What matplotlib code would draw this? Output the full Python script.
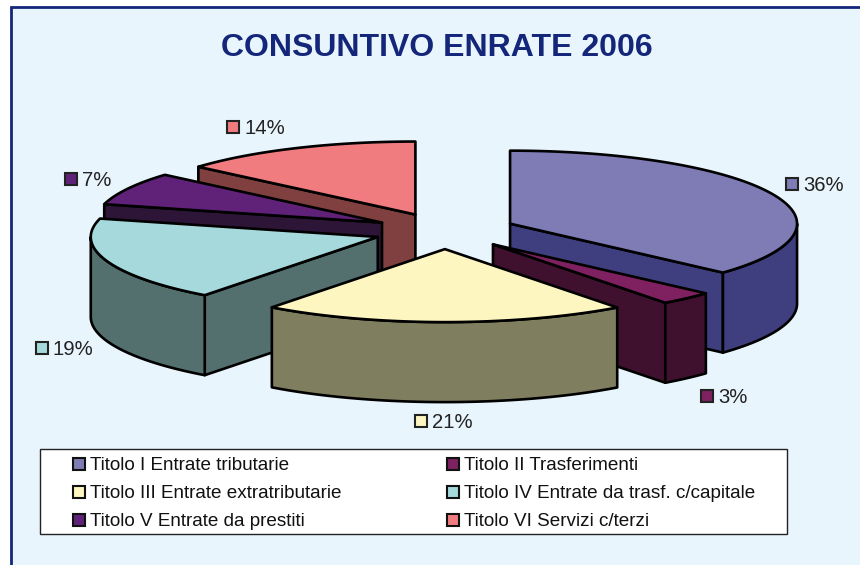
#!/usr/bin/env python3
# -*- coding: utf-8 -*-
import numpy as np
import matplotlib
matplotlib.use("Agg")
import matplotlib.pyplot as plt
from matplotlib.patches import Polygon, Rectangle

# dati
categorie = ["Titolo I Entrate tributarie", "Titolo II Trasferimenti",
             "Titolo III Entrate extratributarie", "Titolo IV Entrate da trasf. c/capitale",
             "Titolo V Entrate da prestiti", "Titolo VI Servizi c/terzi"]
valori = [36.7, 3.05, 20.55, 18.75, 7.3, 13.65]
etichette = ["36%", "3%", "21%", "19%", "7%", "14%"]

# stile
col_top = ["#7E7BB5", "#7F2060", "#FDF6C0", "#A6D9DC", "#5F2278", "#F07C80"]
col_lato = ["#3F3F80", "#40112F", "#7F7F60", "#53706F", "#2D1538", "#804040"]
pos_etichette = [(792, 184), (707, 396), (421, 421), (42, 348), (71, 179), (233, 127)]
ordine = [5, 4, 0, 3, 1, 2]  # dal fondo verso il davanti

cx, cy = 445, 231
rx, ry = 287, 73
alt = 80
esplosione = 0.248
blu = "#14267A"

plt.rcParams['font.family'] = ['Liberation Sans', 'DejaVu Sans']
fig = plt.figure(figsize=(8.6, 5.65), dpi=100, facecolor="white")
ax = fig.add_axes([0, 0, 1, 1])
ax.set_xlim(0, 860)
ax.set_ylim(565, 0)
ax.axis("off")

# sfondo e cornice
ax.add_patch(Rectangle((11, 7), 860, 570, facecolor="#E9F5FC", edgecolor=blu, linewidth=2, zorder=0))


def punto(x0, y0, ang):
    return x0 + rx * np.sin(ang), y0 - ry * np.cos(ang)


def disegna(poly, colore, z):
    ax.add_patch(Polygon(poly, closed=True, facecolor=colore, edgecolor="black",
                         linewidth=1.9, joinstyle="round", zorder=z))


fine = np.cumsum(valori) / sum(valori) * 2 * np.pi
inizio = fine - np.array(valori) / sum(valori) * 2 * np.pi

z = 1
for i in ordine:
    a, b = inizio[i], fine[i]
    m = (a + b) / 2
    x0 = cx + esplosione * rx * np.sin(m)
    y0 = cy - esplosione * ry * np.cos(m)

    # facce di taglio visibili
    if np.sin(a) < -1e-6:
        xa, ya = punto(x0, y0, a)
        disegna([(x0, y0), (xa, ya), (xa, ya + alt), (x0, y0 + alt)], col_lato[i], z)
        z += 1
    if np.sin(b) > 1e-6:
        xb, yb = punto(x0, y0, b)
        disegna([(x0, y0), (xb, yb), (xb, yb + alt), (x0, y0 + alt)], col_lato[i], z)
        z += 1

    # parete esterna (solo la parte davanti)
    a1, b1 = max(a, np.pi / 2), min(b, 3 * np.pi / 2)
    if b1 > a1:
        t = np.linspace(a1, b1, 60)
        xs, ys = punto(x0, y0, t)
        bordo = list(zip(xs, ys)) + list(zip(xs[::-1], ys[::-1] + alt))
        disegna(bordo, col_lato[i], z)
        z += 1

    # faccia superiore
    t = np.linspace(a, b, 120)
    xs, ys = punto(x0, y0, t)
    disegna([(x0, y0)] + list(zip(xs, ys)), col_top[i], z)
    z += 1

# etichette percentuali
for i, (lx, ly) in enumerate(pos_etichette):
    ax.add_patch(Rectangle((lx - 6, ly - 6), 12, 12, facecolor=col_top[i], edgecolor="#222222",
                           linewidth=1.5, zorder=50))
    ax.text(lx + 11, ly + 7, etichette[i], fontsize=14.6, color="#222222", va="baseline", ha="left", zorder=50)

# legenda
ax.add_patch(Rectangle((40, 449), 747, 85, facecolor="white", edgecolor="#222222", linewidth=1, zorder=40))
righe = [464, 492, 520]
colonne = [79, 453]
for i, nome in enumerate(categorie):
    lx, ly = colonne[i % 2], righe[i // 2]
    ax.add_patch(Rectangle((lx - 6, ly - 6), 12, 12, facecolor=col_top[i], edgecolor="#111111",
                           linewidth=1.5, zorder=50))
    ax.text(lx + 11, ly + 6.5, nome, fontsize=13.55, color="#111111", va="baseline", ha="left", zorder=50)

ax.text(436.5, 56, "CONSUNTIVO ENRATE 2006", fontsize=23, fontweight="bold", color=blu,
        ha="center", va="baseline", zorder=50)

fig.savefig("out.png", dpi=100, facecolor="white")
